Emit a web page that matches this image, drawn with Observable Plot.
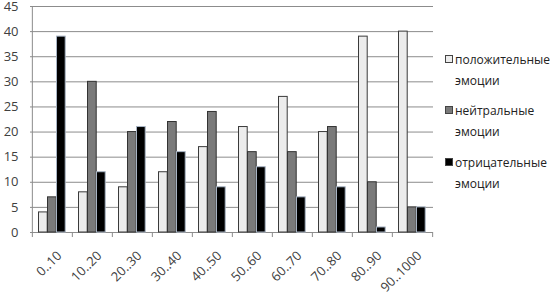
<!DOCTYPE html>
<html>
<head>
<meta charset="utf-8">
<script src="https://cdn.jsdelivr.net/npm/d3@7"></script>
<script src="https://cdn.jsdelivr.net/npm/@observablehq/plot@0.6"></script>
<style>
  html, body { margin: 0; padding: 0; background: #fff; }
  #wrap { position: relative; width: 554px; height: 296px; font-family: "Open Sans", sans-serif; }
  #legend { position: absolute; left: 445px; top: 0; font-size: 12px; color: #222; }
  .item { position: absolute; left: 0; width: 110px; line-height: 21px; }
  .sw { position: absolute; left: 0; top: 6px; width: 8px; height: 8px; box-sizing: border-box; border: 1px solid #444; }
  .txt { position: absolute; left: 10px; top: 0; white-space: nowrap; }
</style>
</head>
<body>
<div id="wrap"></div>
<script>
const categories = ["0..10","10..20","20..30","30..40","40..50","50..60","60..70","70..80","80..90","90..1000"];
const positive = [4, 8, 9, 12, 17, 21, 27, 20, 39, 40];
const neutral  = [7, 30, 20, 22, 24, 16, 16, 21, 10, 5];
const negative = [39, 12, 21, 16, 9, 13, 7, 9, 1, 5];
const seriesNames = ["положительные эмоции", "нейтральные эмоции", "отрицательные эмоции"];
const seriesFill = ["#ececec", "#7a7a7a", "#000000"];
const seriesStroke = ["#3a3a3a", "#333333", "#a8b4c4"];
const yTicks = [0, 5, 10, 15, 20, 25, 30, 35, 40, 45];

const W = 554, H = 296, mL = 30, mR = 121, mT = 6, mB = 64;
const band = (W - mL - mR) / categories.length;
const off = 6.5, bw = 9;

const seriesValues = [positive, neutral, negative];
const rows = seriesValues.map(vals => categories.map((c, j) => ({cat: c, value: vals[j]})));

const marks = [
  Plot.gridY(yTicks, {stroke: "#8c8c8c", strokeOpacity: 1}),
  Plot.ruleX([categories[0]], {dx: -band / 2, y1: 0, y2: 45, stroke: "#8c8c8c"}),
  Plot.ruleX(categories, {dx: -band / 2, y1: 0, y2: -1, stroke: "#8c8c8c"}),
  Plot.ruleX([categories[categories.length - 1]], {dx: band / 2, y1: 0, y2: -1, stroke: "#8c8c8c"}),
];
rows.forEach((data, i) => {
  marks.push(Plot.barY(data, {
    x: "cat", y: "value",
    fill: seriesFill[i], stroke: seriesStroke[i], strokeWidth: 1,
    insetLeft: off + bw * i, insetRight: band - off - bw * (i + 1)
  }));
});
marks.push(Plot.axisY(yTicks, {tickSize: 0, tickPadding: 12, fontSize: 13, color: "#404040", label: null}));
marks.push(Plot.axisX({tickSize: 0, tickRotate: -45, tickPadding: 10, dx: 7, dy: 11, fontSize: 13, color: "#404040", label: null}));

const chart = Plot.plot({
  width: W, height: H,
  marginLeft: mL, marginRight: mR, marginTop: mT, marginBottom: mB,
  style: {fontFamily: "'Open Sans', sans-serif", background: "#fff"},
  x: {domain: categories, padding: 0, label: null},
  y: {domain: [0, 45], label: null},
  marks
});
const wrap = document.getElementById("wrap");
wrap.appendChild(chart);

const legend = document.createElement("div");
legend.id = "legend";
const tops = [49, 100, 152];
seriesNames.forEach((name, i) => {
  const parts = name.split(" ");
  const item = document.createElement("div");
  item.className = "item";
  item.style.top = tops[i] + "px";
  const sw = document.createElement("div");
  sw.className = "sw";
  sw.style.background = seriesFill[i];
  item.appendChild(sw);
  const t = document.createElement("div");
  t.className = "txt";
  t.innerHTML = parts[0] + "<br>" + parts[1];
  item.appendChild(t);
  legend.appendChild(item);
});
wrap.appendChild(legend);
</script>
</body>
</html>
